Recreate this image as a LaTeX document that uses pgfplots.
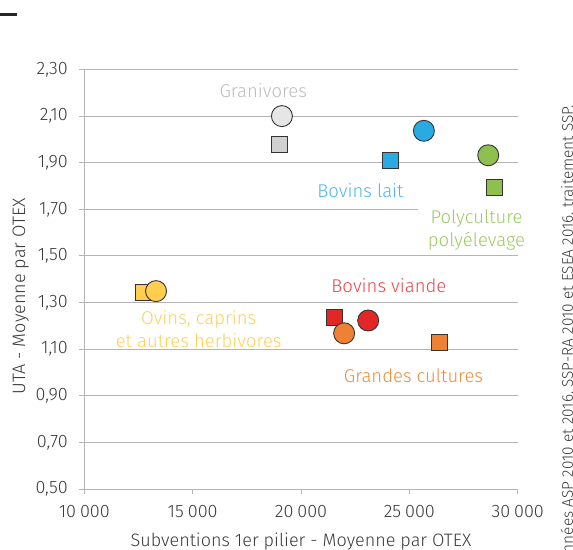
\documentclass[border=0pt]{standalone}
\usepackage{fontspec}
\setmainfont{Fira Sans Light}
\usepackage{pgfplots}
\pgfplotsset{compat=1.18}
\definecolor{gridc}{HTML}{B4B4B4}
\definecolor{txt}{HTML}{3A3A3A}
\definecolor{edge}{HTML}{333333}
\definecolor{granC}{HTML}{E6E6E6}
\definecolor{granS}{HTML}{D0D0D0}
\definecolor{granL}{HTML}{BDBDBD}
\definecolor{blueC}{HTML}{29ABE2}
\definecolor{blueL}{HTML}{4DB6E8}
\definecolor{greenC}{HTML}{8DC04F}
\definecolor{greenL}{HTML}{9DCB63}
\definecolor{redC}{HTML}{E32726}
\definecolor{redL}{HTML}{E9474A}
\definecolor{orangeC}{HTML}{EE8134}
\definecolor{orangeL}{HTML}{F08A3C}
\definecolor{yellowC}{HTML}{FFCD4F}
\definecolor{yellowL}{HTML}{FFD057}
\tikzset{lab/.style={font=\fontsize{18.5bp}{23bp}\selectfont, align=center}}
\begin{document}
\begin{tikzpicture}
\path[use as bounding box] (-84.3bp,-61bp) rectangle (488.7bp,489bp);
\begin{axis}[
  at={(0,0)}, anchor=south west,
  scale only axis, width=433.4bp, height=419.5bp,
  xmin=10000, xmax=30000, ymin=0.5, ymax=2.3,
  xtick={10000,15000,20000,25000,30000},
  ytick={0.5,0.7,0.9,1.1,1.3,1.5,1.7,1.9,2.1,2.3},
  axis lines*=left,
  axis line style={gridc, line width=1bp},
  ymajorgrids, grid style={gridc, line width=1bp},
  tick style={gridc, line width=1bp},
  tick align=outside, major tick length=5bp,
  /pgf/number format/assume math mode=true,
  xticklabel style={font=\fontsize{18bp}{20bp}\selectfont, text=txt, yshift=-8bp,
    /pgf/number format/1000 sep={\hspace{0.22em}}},
  yticklabel style={font=\fontsize{18bp}{20bp}\selectfont, text=txt, xshift=-8bp,
    /pgf/number format/.cd, fixed, fixed zerofill, precision=2, use comma},
  scaled x ticks=false,
  xlabel={Subventions 1er pilier - Moyenne par OTEX},
  ylabel={UTA - Moyenne par OTEX},
  label style={font=\fontsize{18bp}{20bp}\selectfont, text=txt},
  xlabel style={at={(axis description cs:0.5,-0.1245)}, anchor=center},
  ylabel style={at={(axis description cs:-0.147,0.4595)}, anchor=center, rotate=0},
  clip=false,
]
% squares (2010)
\addplot[only marks, mark=square*, mark size=8bp, mark options={fill=granS, draw=edge, line width=0.9bp}] coordinates {(19000,1.978)};
\addplot[only marks, mark=square*, mark size=8bp, mark options={fill=blueC, draw=edge, line width=0.9bp}] coordinates {(24140,1.911)};
\addplot[only marks, mark=square*, mark size=8bp, mark options={fill=greenC, draw=edge, line width=0.9bp}] coordinates {(28930,1.796)};
\addplot[only marks, mark=square*, mark size=8bp, mark options={fill=yellowC, draw=edge, line width=0.9bp}] coordinates {(12730,1.345)};
\addplot[only marks, mark=square*, mark size=8bp, mark options={fill=redC, draw=edge, line width=0.9bp}] coordinates {(21550,1.237)};
\addplot[only marks, mark=square*, mark size=8bp, mark options={fill=orangeC, draw=edge, line width=0.9bp}] coordinates {(26400,1.127)};
% circles (2016)
\addplot[only marks, mark=*, mark size=10.5bp, mark options={fill=granC, draw=edge, line width=0.9bp}] coordinates {(19120,2.100)};
\addplot[only marks, mark=*, mark size=10.5bp, mark options={fill=blueC, draw=edge, line width=0.9bp}] coordinates {(25670,2.037)};
\addplot[only marks, mark=*, mark size=10.5bp, mark options={fill=greenC, draw=edge, line width=0.9bp}] coordinates {(28640,1.932)};
\addplot[only marks, mark=*, mark size=10.5bp, mark options={fill=yellowC, draw=edge, line width=0.9bp}] coordinates {(13310,1.349)};
\addplot[only marks, mark=*, mark size=10.5bp, mark options={fill=redC, draw=edge, line width=0.9bp}] coordinates {(23100,1.223)};
\addplot[only marks, mark=*, mark size=10.5bp, mark options={fill=orangeC, draw=edge, line width=0.9bp}] coordinates {(21990,1.168)};
% labels
\node[lab, text=granL] at (axis cs:18258,2.2075) {Granivores};
\node[lab, text=blueL] at (axis cs:22740,1.782) {Bovins lait};
\node[lab, text=greenL, fill=white, inner xsep=10bp, inner ysep=3bp] at (axis cs:28100,1.612) {Polyculture\\polyélevage};
\node[lab, text=redL] at (axis cs:24057,1.373) {Bovins viande};
\node[lab, text=orangeL] at (axis cs:25190,0.986) {Grandes cultures};
\node[lab, text=yellowL] at (axis cs:15277,1.188) {Ovins, caprins\\et autres herbivores};
\end{axis}
\fill[black!85] (-84.3bp,473.3bp) rectangle (-67.6bp,475.7bp);
\node[rotate=90, anchor=east, text=txt, font=\fontsize{15.4bp}{18bp}\selectfont, inner sep=0pt] at (483.7bp,384bp) {Sources : données ASP 2010 et 2016, SSP-RA 2010 et ESEA 2016, traitement SSP.};
\end{tikzpicture}
\end{document}
